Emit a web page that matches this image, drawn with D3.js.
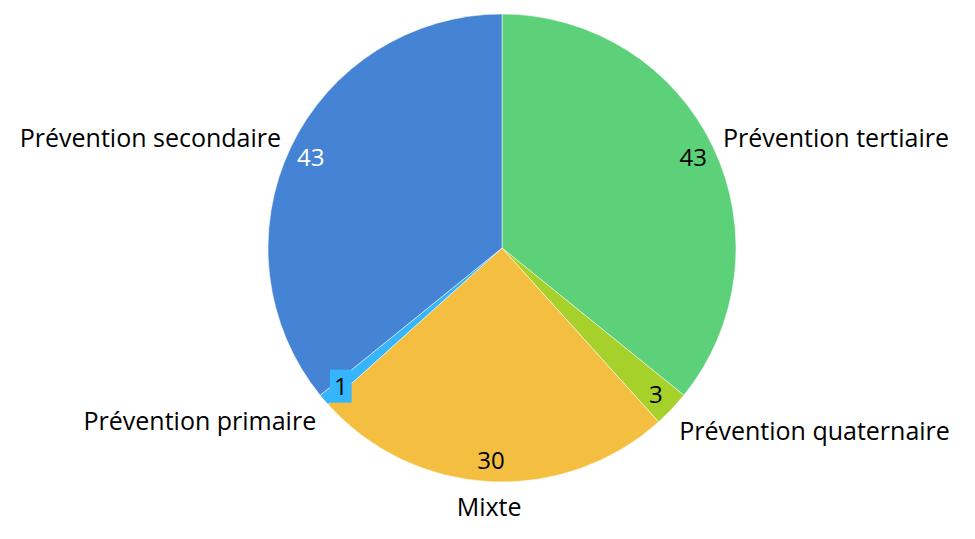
<!DOCTYPE html>
<html><head><meta charset="utf-8">
<script src="https://cdn.jsdelivr.net/npm/d3@7"></script>
<style>body{margin:0;background:#fff}svg{display:block}text{font-family:"Open Sans",sans-serif}</style>
</head><body>
<svg id="c" width="975" height="539"></svg>
<script>
const categories = ["Prévention tertiaire","Prévention quaternaire","Mixte","Prévention primaire","Prévention secondaire"];
const values = [43, 3, 30, 1, 43];
const colors = ["#5dd07a","#a6d12b","#f4bf40","#35b5fb","#4584d4"];
const valueColors = ["#000","#000","#000","#000","#fff"];

const W=975,H=539,cx=502,cy=248,R=234,fs=25,vfs=24;
const svg=d3.select("#c");
const g=svg.append("g").attr("transform",`translate(${cx},${cy})`);
const data=categories.map((c,i)=>({c,v:values[i],i}));
const pie=d3.pie().value(d=>d.v).sort(null);
const arcs=pie(data);
const arc=d3.arc().innerRadius(0).outerRadius(R);
g.selectAll("path").data(arcs).join("path").attr("d",arc)
 .attr("fill",d=>colors[d.data.i]).attr("stroke","#fff").attr("stroke-width",0.5);

const lab=d3.arc().innerRadius(212).outerRadius(212);
arcs.forEach(d=>{
  const [x,y]=lab.centroid(d);
  const t=g.append("text").attr("x",x).attr("y",y).attr("text-anchor","middle")
    .attr("dominant-baseline","central").attr("font-size",vfs)
    .attr("fill",valueColors[d.data.i]).text(d.data.v);
  if(d.data.v<2){
    const b=t.node().getBBox();
    g.insert("rect","text").attr("x",b.x-4).attr("y",y-16).attr("width",b.width+8).attr("height",33)
     .attr("fill",colors[d.data.i]);
  }
});
const out=d3.arc().innerRadius(R+13).outerRadius(R+13);
arcs.forEach(d=>{
  const [x,y]=out.centroid(d);
  const a=(d.startAngle+d.endAngle)/2;
  const s=Math.sin(a),c=Math.cos(a);
  const anchor=Math.abs(s)<0.3?"middle":(s>0?"start":"end");
  const dy=c<0?fs*0.46:-c*fs*0.45;
  const dx=Math.abs(s)<0.3?0:(s>0?-2:2);
  g.append("text").attr("x",x+dx).attr("y",y+dy).attr("text-anchor",anchor)
    .attr("dominant-baseline","central").attr("font-size",fs).attr("fill","#000").text(d.data.c);
});
</script>
</body></html>
